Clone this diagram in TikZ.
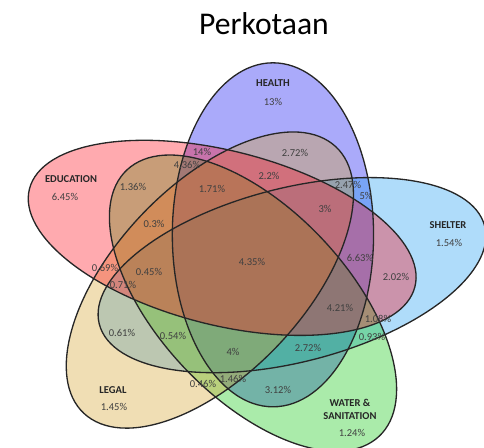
\documentclass[tikz,border=0pt]{standalone}
\usepackage{fontspec}
\setmainfont{Carlito}
\definecolor{healthfill}{RGB}{12,12,241}
\definecolor{shelterfill}{RGB}{26,155,241}
\definecolor{waterfill}{RGB}{12,198,12}
\definecolor{legalfill}{RGB}{212,160,41}
\definecolor{edufill}{RGB}{255,12,26}
\tikzset{
  blob/.style={fill opacity=0.35},
  rim/.style={draw=black!85, line width=0.75pt},
  setname/.style={font=\fontsize{6}{7}\selectfont\bfseries, text=black!85},
  pct/.style={font=\fontsize{6}{7}\selectfont, text=black!75}
}

\begin{document}
\begin{tikzpicture}[x=0.02cm,y=0.02cm]
    \useasboundingbox (0,0) rectangle (484,448);
    \node[font=\fontsize{18}{20}\selectfont, anchor=base] (title) at (264,413) {Perkotaan};

    \begin{scope}[shift={(250,181.8)}, xscale=1.17]
        \fill[blob, healthfill, rotate around={90:(58:37)}] (58:37) ellipse (172 and 86);
        \fill[blob, shelterfill, rotate around={18:(-14:37)}] (-14:37) ellipse (172 and 86);
        \fill[blob, waterfill, rotate around={-54:(-86:37)}] (-86:37) ellipse (172 and 86);
        \fill[blob, legalfill, rotate around={54:(-158:37)}] (-158:37) ellipse (172 and 86);
        \fill[blob, edufill, rotate around={162:(130:37)}] (130:37) ellipse (172 and 86);
        \draw[rim, rotate around={90:(58:37)}] (58:37) ellipse (172 and 86);
        \draw[rim, rotate around={18:(-14:37)}] (-14:37) ellipse (172 and 86);
        \draw[rim, rotate around={-54:(-86:37)}] (-86:37) ellipse (172 and 86);
        \draw[rim, rotate around={54:(-158:37)}] (-158:37) ellipse (172 and 86);
        \draw[rim, rotate around={162:(130:37)}] (130:37) ellipse (172 and 86);
    \end{scope}

    \node[setname] (health) at (273,365) {HEALTH};
    \node[pct] (health-only) at (273,346) {13\%};
    \node[setname] (edu) at (71,269) {EDUCATION};
    \node[pct] (edu-only) at (65,251) {6.45\%};
    \node[setname] (shelter) at (448,223) {SHELTER};
    \node[pct] (shelter-only) at (449,205) {1.54\%};
    \node[setname] (legal) at (113,58) {LEGAL};
    \node[pct] (legal-only) at (114,41) {1.45\%};
    \node[setname, align=center] (water) at (350,38.5) {WATER \&\\SANITATION};
    \node[pct] (water-only) at (352,15) {1.24\%};

    \node[pct] (p-hl) at (295,295) {2.72\%};
    \node[pct] (p-he) at (202,296) {14\%};
    \node[pct] (p-hel) at (187,283) {4.36\%};
    \node[pct] (p-hle) at (269,272) {2.2\%};
    \node[pct] (p-hls) at (348,263) {2.47\%};
    \node[pct] (p-hs) at (366,252) {5\%};
    \node[pct] (p-ew) at (133,261) {1.36\%};
    \node[pct] (p-ewh) at (212,259) {1.71\%};
    \node[pct] (p-hlse) at (325,239) {3\%};
    \node[pct] (p-ewl) at (154,224) {0.3\%};
    \node[pct] (p-all) at (252,186) {4.35\%};
    \node[pct] (p-hse) at (360,190) {6.63\%};
    \node[pct] (p-se) at (396,171) {2.02\%};
    \node[pct] (p-el) at (105,180) {0.69\%};
    \node[pct] (p-ewls) at (149,176) {0.45\%};
    \node[pct] (p-els) at (123,163) {0.71\%};
    \node[pct] (p-hsw) at (340,140) {4.21\%};
    \node[pct] (p-sew) at (378,129) {1.08\%};
    \node[pct] (p-sw) at (372,111) {0.93\%};
    \node[pct] (p-sl) at (122,115) {0.61\%};
    \node[pct] (p-slw) at (173,112) {0.54\%};
    \node[pct] (p-hswt) at (308,100) {2.72\%};
    \node[pct] (p-hslw) at (233,96) {4\%};
    \node[pct] (p-lw) at (203,64) {0.46\%};
    \node[pct] (p-hlw) at (233,69) {1.46\%};
    \node[pct] (p-hw) at (278,58) {3.12\%};
\end{tikzpicture}
\end{document}
